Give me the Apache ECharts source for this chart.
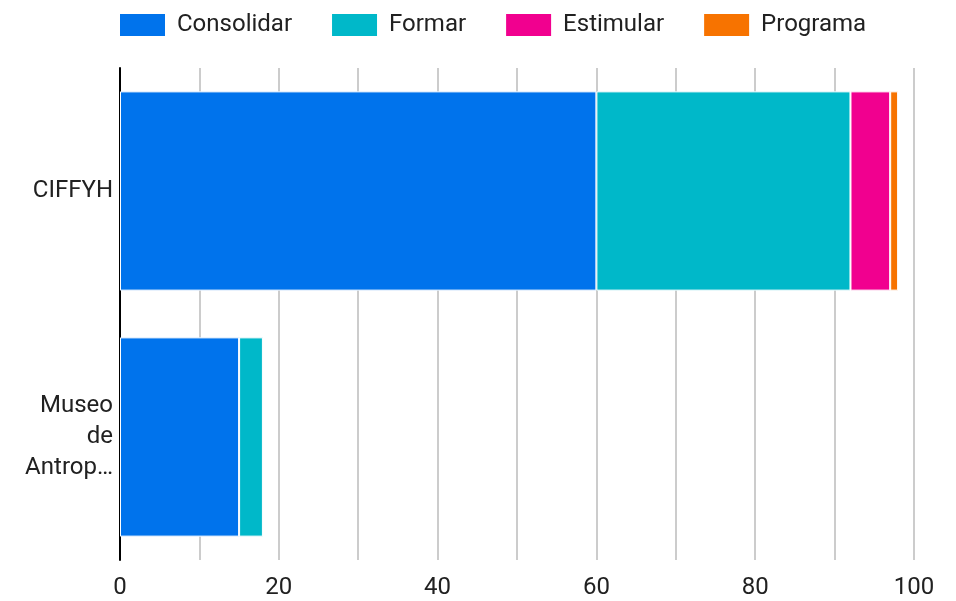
<!DOCTYPE html>
<html>
<head>
<meta charset="utf-8">
<script src="https://cdn.jsdelivr.net/npm/echarts@6/dist/echarts.min.js"></script>
<style>
  html, body { margin: 0; padding: 0; background: #fff; }
  #chart { width: 956px; height: 601px; }
</style>
</head>
<body>
<div id="chart"></div>
<script>
const categories = ['CIFFYH', 'Museo de Antropología'];
const consolidar = [60, 15];
const formar = [32, 3];
const estimular = [5, 0];
const programa = [1, 0];
const xTicks = [0, 20, 40, 60, 80, 100];

const colors = ['#0073ec', '#00b8c9', '#f1008f', '#f77300'];
const names = ['Consolidar', 'Formar', 'Estimular', 'Programa'];
const values = [consolidar, formar, estimular, programa];

const chart = echarts.init(document.getElementById('chart'));
chart.setOption({
  animation: false,
  textStyle: { fontFamily: 'Roboto' },
  legend: {
    left: 113,
    top: 7,
    itemWidth: 47,
    itemHeight: 24,
    itemGap: 38,
    icon: 'rect',
    textStyle: { fontSize: 24, color: '#212121', padding: [0, 0, 0, 6] },
    data: names,
  },
  grid: { left: 120, right: 42, top: 68, bottom: 41, containLabel: false },
  xAxis: {
    type: 'value',
    min: 0,
    max: 100,
    interval: 10,
    axisLine: { show: false },
    axisTick: { show: false },
    splitLine: { lineStyle: { color: '#cccccc', width: 2 } },
    axisLabel: {
      fontSize: 24,
      color: '#212121',
      margin: 16,
      formatter: (v) => (xTicks.includes(v) ? String(v) : ''),
    },
  },
  yAxis: {
    type: 'category',
    inverse: true,
    data: categories,
    axisLine: { show: true, lineStyle: { color: '#000', width: 2 } },
    axisTick: { show: false },
    axisLabel: {
      fontSize: 24,
      color: '#212121',
      margin: 7,
      lineHeight: 31,
      align: 'right',
      formatter: (v) => (v === 'CIFFYH' ? v : 'Museo\nde\nAntrop…'),
    },
  },
  series: names.map((n, i) => ({
    name: n,
    type: 'bar',
    stack: 'total',
    barCategoryGap: '19%',
    itemStyle: { color: colors[i], borderColor: '#fff', borderWidth: 1 },
    data: values[i].map((v) => (v === 0 ? null : v)),
  })),
});
</script>
</body>
</html>
